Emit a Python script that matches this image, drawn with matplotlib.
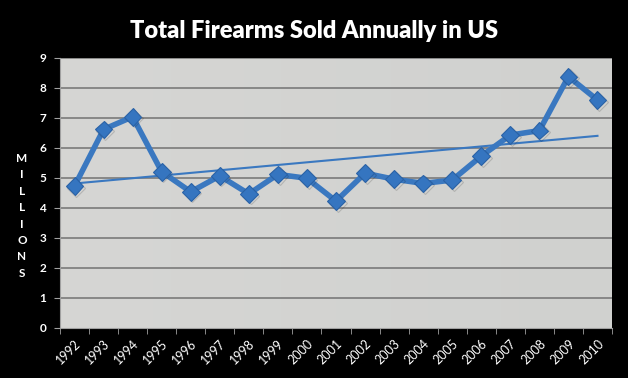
import matplotlib
matplotlib.use("Agg")
import matplotlib.pyplot as plt
import matplotlib.patheffects as pe
import numpy as np

years = ["1992", "1993", "1994", "1995", "1996", "1997", "1998", "1999", "2000", "2001",
         "2002", "2003", "2004", "2005", "2006", "2007", "2008", "2009", "2010"]
sold_millions = [4.73, 6.62, 7.04, 5.21, 4.54, 5.07, 4.47, 5.12, 4.99, 4.23,
                 5.16, 4.96, 4.82, 4.93, 5.73, 6.43, 6.58, 8.38, 7.60]
y_ticks = [0, 1, 2, 3, 4, 5, 6, 7, 8, 9]

fig = plt.figure(figsize=(6.28, 3.78), dpi=100, facecolor="black")
ax = fig.add_axes([60/628, 50/378, 552/628, 270/378])
ax.set_facecolor("#d3d3d3")

grad = np.linspace(0, 1, 256).reshape(1, -1)
ax.imshow(grad, extent=[0, 1, 0, 1], transform=ax.transAxes, aspect="auto",
          cmap=matplotlib.colors.LinearSegmentedColormap.from_list("g", ["#d6d6d4", "#d0d1cf"]),
          zorder=0)

x = np.arange(len(years))
ax.set_xlim(-0.5, len(years) - 0.5)
ax.set_ylim(0, 9)

for t in y_ticks[1:]:
    ax.axhline(t, color="#7a7a7a", lw=1.2, zorder=1)

# trendline
coef = np.polyfit(x, sold_millions, 1)
ax.plot(x, np.polyval(coef, x), color="#3a78c0", lw=1.5, zorder=2)

shadow = [pe.SimpleLineShadow(offset=(1.2, -1.2), alpha=0.15, shadow_color="black"), pe.Normal()]
ax.plot(x, sold_millions, color="#3a78c0", lw=4, zorder=3)
ax.plot(x, sold_millions, linestyle="none", marker="D", markersize=9,
        markerfacecolor="#3575c0", markeredgecolor="#2a62a6", markeredgewidth=0.8,
        zorder=4, path_effects=shadow)

ax.set_yticks(y_ticks)
ax.set_yticklabels([str(t) for t in y_ticks], color="white", fontsize=8.5,
                   fontweight="bold", family="Lato")
ax.set_xticks(x)
ax.set_xticklabels(years, rotation=45, ha="right", rotation_mode="anchor",
                   color="white", fontsize=9, family="Lato")
ax.set_xticks(np.arange(-0.5, len(years), 1), minor=True)
ax.tick_params(axis="x", which="major", length=0, pad=7)
ax.tick_params(axis="x", which="minor", length=4, color="#a0a0a0", direction="out")
ax.tick_params(axis="y", length=4, color="#a0a0a0", direction="out", pad=6)

for side in ["top", "right"]:
    ax.spines[side].set_visible(False)
ax.spines["left"].set_color("#a0a0a0")
ax.spines["bottom"].set_color("#a0a0a0")

fig.text(314/628, 1 - 31/378, "Total Firearms Sold Annually in US", color="white",
         fontsize=17, fontweight="heavy", family="Lato", ha="center", va="center")

fig.text(22/628, 1 - 216/378, "\n".join("MILLIONS"), color="white", fontsize=8.5,
         fontweight="bold", family="Lato", ha="center", va="center", linespacing=1.6)

fig.savefig("out.png", dpi=100, facecolor="black")
